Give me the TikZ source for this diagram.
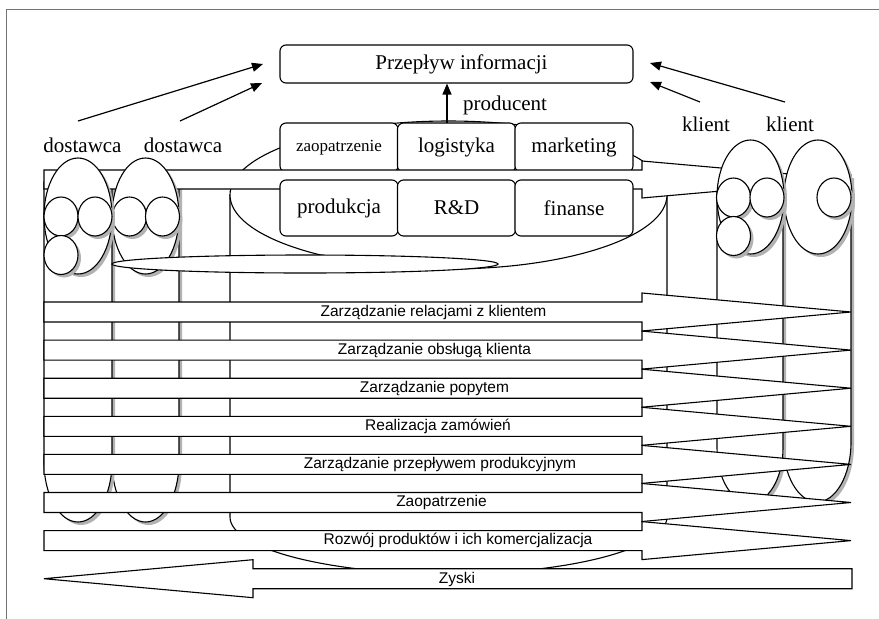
\documentclass[tikz,border=0pt]{standalone}
\usepackage{fontspec}
\setmainfont{Liberation Serif}
\newfontfamily\lblfont{Liberation Sans}
\usetikzlibrary{shapes.geometric,shadows,arrows.meta}
\begin{document}
\begin{tikzpicture}[x=1pt,y=-1pt,
  ln/.style={line width=1.1pt, draw=black, line join=miter},
  wfill/.style={ln, fill=white},
  shad/.style={drop shadow={shadow xshift=3pt, shadow yshift=-3pt, fill=black!30, opacity=1}},
  fbox/.style={wfill, rectangle, rounded corners=6pt, inner sep=0pt, minimum width=118pt, font=\fontsize{21}{24}\selectfont},
  ell/.style={wfill, ellipse, inner sep=0pt},
  circ/.style={ell, shad, minimum width=34pt, minimum height=39pt},
  band/.style={wfill},
  plabel/.style={font=\lblfont\fontsize{15.5}{17}\selectfont, inner sep=0pt},
  stext/.style={font=\fontsize{21}{24}\selectfont, inner sep=0pt},
  tarrow/.style={line width=1.2pt, -{Triangle[length=11pt,width=9pt]}},
  framel/.style={draw=black!55, line width=1.3pt}
]
\useasboundingbox (0,0) rectangle (879,619);
% frame
\draw[framel] (6.5,619) -- (6.5,9.5) -- (879,9.5);

% producer lane
\draw[wfill] (230,195) -- (230,517) arc[start angle=180, end angle=360, x radius=218.5pt, y radius=57pt] -- (667,195) -- cycle;
% client lanes
\draw[wfill, shad] (783,175) -- (783,442) arc[start angle=180, end angle=360, x radius=34pt, y radius=60pt] -- (851,175) -- cycle;
\draw[wfill, shad] (717,175) -- (717,448) arc[start angle=180, end angle=360, x radius=33pt, y radius=55pt] -- (783,175) -- cycle;
% supplier lanes
\draw[wfill, shad] (112,182) -- (112,462) arc[start angle=180, end angle=360, x radius=33.5pt, y radius=60pt] -- (179,182) -- cycle;
\draw[wfill, shad] (44,182) -- (44,462) arc[start angle=180, end angle=360, x radius=34pt, y radius=60pt] -- (112,182) -- cycle;

% producer ellipse
\node[ell, minimum width=437pt, minimum height=148pt] (prod) at (448.5,195) {};

% function boxes, row 1
\node[fbox, minimum height=49pt] (zaop) at (339,147.5) {\fontsize{17}{20}\selectfont zaopatrzenie};
\node[fbox, minimum height=49pt] (logi) at (456.5,147.5) {logistyka};
\node[fbox, minimum height=49pt] (mark) at (574,147.5) {marketing};

% top band
\draw[band] (44,170) -- (642,170) -- (642,161) -- (851,179.5) -- (642,198) -- (642,189) -- (44,189) -- cycle;

% function boxes, row 2
\node[fbox, minimum height=56pt] (prodk) at (339,208) {produkcja};
\node[fbox, minimum height=56pt] (rd) at (456.5,208) {R\&D};
\node[fbox, minimum height=56pt] (fin) at (574,208) {finanse};

% supplier ellipses
\node[ell, shad, minimum width=67pt, minimum height=116pt] (d2) at (145.5,216) {};
\node[circ] (d2a) at (129.5,216.5) {};
\node[circ] (d2b) at (162.5,216.5) {};
\node[ell, shad, minimum width=68pt, minimum height=116pt] (d1) at (78,216) {};
\node[circ] (d1a) at (61,216.5) {};
\node[circ] (d1b) at (95,216.5) {};
\node[circ] (d1c) at (61,255) {};

% client ellipses
\node[ell, shad, minimum width=68pt, minimum height=114pt] (k2) at (818,197) {};
\node[circ] (k2a) at (834,197.5) {};
\node[ell, shad, minimum width=67pt, minimum height=114pt] (k1) at (750.5,197) {};
\node[circ] (k1a) at (733.5,197.5) {};
\node[circ] (k1b) at (767,197.5) {};
\node[circ] (k1c) at (733.5,236) {};

% thin ellipse
\node[ell, minimum width=386pt, minimum height=18pt] (thin) at (305,264) {};

% process arrows
\foreach \c/\t/\lx [count=\i] in {312/Zarządzanie relacjami z klientem/433.5,
  350.1/Zarządzanie obsługą klienta/434.5,
  388.2/Zarządzanie popytem/434.5,
  426.3/Realizacja zamówień/438,
  464.4/Zarządzanie przepływem produkcyjnym/440,
  502.5/Zaopatrzenie/441.5,
  540.6/Rozwój produktów i ich komercjalizacja/458}
{
  \draw[band] (44,\c-10) -- (642,\c-10) -- (642,\c-19) -- (851,\c) -- (642,\c+19) -- (642,\c+10) -- (44,\c+10) -- cycle;
  \node[plabel] (p\i) at (\lx,\c) {\t};
}
\draw[band] (44,578.7) -- (253,559.7) -- (253,568.7) -- (852,568.7) -- (852,588.7) -- (253,588.7) -- (253,597.7) -- cycle;
\node[plabel] (zyski) at (457,579) {Zyski};

% information box and labels
\node[wfill, rectangle, rounded corners=6pt, minimum width=353pt, minimum height=38pt, inner sep=0pt, font=\fontsize{21}{24}\selectfont] (info) at (456.5,64) {\hspace*{10pt}Przepływ informacji};
\node[stext] (dost1) at (82.5,145) {dostawca};
\node[stext] (dost2) at (183,145) {dostawca};
\node[stext] (kl1) at (706,124.5) {klient};
\node[stext] (kl2) at (790,124.5) {klient};
\node[stext] (prodlbl) at (505,105.5) {producent};

% thin arrows
\coordinate (a1s) at (78,121);  \coordinate (a1e) at (263,64);
\coordinate (a2s) at (180,121); \coordinate (a2e) at (262,83);
\coordinate (a3s) at (785,102); \coordinate (a3e) at (650,63);
\coordinate (a4s) at (700,102); \coordinate (a4e) at (650,82);
\coordinate (upfoot) at (447,123);
\draw[tarrow] (a1s) -- (a1e);
\draw[tarrow] (a2s) -- (a2e);
\draw[tarrow] (a3s) -- (a3e);
\draw[tarrow] (a4s) -- (a4e);
\draw[tarrow] (upfoot) -- (upfoot |- info.south);
\end{tikzpicture}
\end{document}
